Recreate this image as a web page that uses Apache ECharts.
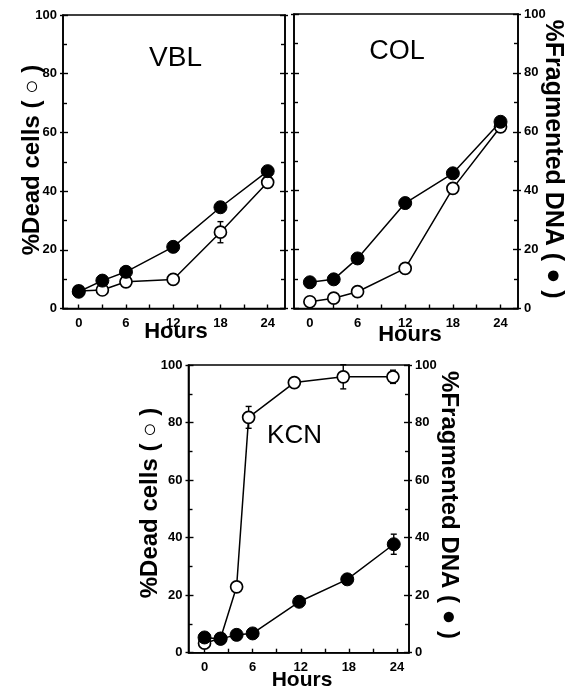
<!DOCTYPE html>
<html>
<head>
<meta charset="utf-8">
<script src="https://cdn.jsdelivr.net/npm/echarts@6/dist/echarts.min.js"></script>
<style>
html,body{margin:0;padding:0;background:#fff;}
#chart{width:567px;height:689px;}
</style>
</head>
<body>
<div id="chart"></div>
<script>
// ---- data ----
const vblHours = [0, 3, 6, 12, 18, 24];
const vblDead = [6, 6.3, 9.1, 9.9, 26, 43];
const vblDeadErr = [0, 0, 0, 0, 3.6, 0];
const vblDNA = [5.7, 9.5, 12.5, 21, 34.5, 46.8];

const colHours = [0, 3, 6, 12, 18, 24];
const colDead = [2.3, 3.5, 5.7, 13.6, 40.8, 61.7];
const colDNA = [8.9, 9.9, 17, 35.8, 45.9, 63.4];

const kcnDeadHours = [0, 2, 4, 5.5, 11.2, 17.3, 23.5];
const kcnDead = [3.3, 5, 22.9, 81.8, 93.9, 95.9, 95.9];
const kcnDeadErr = [0, 0, 0, 3.8, 0, 4.2, 2.3];
const kcnDNAHours = [0, 2, 4, 6, 11.8, 17.8, 23.6];
const kcnDNA = [5.3, 4.8, 6.2, 6.7, 17.7, 25.5, 37.7];
const kcnDNAErr = [0, 0, 0, 0, 0, 0, 3.5];

const hourLabels = [0, 6, 12, 18, 24];
const hourTicks = [0, 3, 6, 9, 12, 15, 18, 21, 24];
const panelNames = ['VBL', 'COL', 'KCN'];
const deadTitle = '%Dead cells ( ○ )';
const dnaTitle = '%Fragmented DNA ( ● )';
const xTitle = 'Hours';

// ---- helpers ----
const FF = '"Liberation Sans", Arial, sans-serif';
const K = '#000';
const zip = (xs, ys) => xs.map((x, i) => [x, ys[i]]);
const zip3 = (xs, ys, es) => xs.map((x, i) => [x, ys[i], es[i]]).filter(d => d[2] > 0);

function mkGrid(l, t, w, h) {
  return { left: l, top: t, width: w, height: h, show: true, borderColor: K, borderWidth: 1.6, backgroundColor: 'transparent' };
}
function mkX(g, max) {
  return {
    type: 'value', gridIndex: g, min: -2, max: max, position: 'bottom',
    axisLine: { show: true, onZero: false, lineStyle: { color: K, width: 1.6 } },
    axisTick: { show: true, inside: true, length: 4, customValues: hourTicks, lineStyle: { color: K, width: 1.4 } },
    axisLabel: { customValues: hourLabels, margin: 8, fontFamily: FF, fontWeight: 'bold', fontSize: 13, color: K },
    splitLine: { show: false }
  };
}
function mkY(g, pos, showLabel) {
  return {
    type: 'value', gridIndex: g, position: pos, min: 0, max: 100, interval: 20,
    axisLine: { show: true, onZero: false, lineStyle: { color: K, width: 1.6 } },
    axisTick: { show: true, inside: true, length: 5, lineStyle: { color: K, width: 1.4 } },
    minorTick: { show: true, splitNumber: 2, length: 4, lineStyle: { color: K, width: 1.4 } },
    axisLabel: { show: showLabel, margin: 6, fontFamily: FF, fontWeight: 'bold', fontSize: 13, color: K },
    splitLine: { show: false }, minorSplitLine: { show: false }
  };
}
function mkYOuter(g, pos) {
  return {
    type: 'value', gridIndex: g, position: pos, min: 0, max: 100, interval: 20,
    axisLine: { show: false, onZero: false },
    axisTick: { show: true, inside: false, length: 3, lineStyle: { color: K, width: 1.4 } },
    axisLabel: { show: false }, splitLine: { show: false }
  };
}
function openSeries(g, xs, ys) {
  return {
    type: 'line', xAxisIndex: g, yAxisIndex: g * 4, data: zip(xs, ys),
    symbol: 'circle', symbolSize: 12, z: 3,
    itemStyle: { color: '#fff', borderColor: K, borderWidth: 1.7 },
    lineStyle: { color: K, width: 1.5 }, animation: false
  };
}
function filledSeries(g, xs, ys) {
  return {
    type: 'line', xAxisIndex: g, yAxisIndex: g * 4, data: zip(xs, ys),
    symbol: 'circle', symbolSize: 13, z: 4,
    itemStyle: { color: K, borderColor: K, borderWidth: 1 },
    lineStyle: { color: K, width: 1.5 }, animation: false
  };
}
function errSeries(g, data) {
  return {
    type: 'custom', xAxisIndex: g, yAxisIndex: g * 4, data: data, z: 2, animation: false,
    encode: { x: 0, y: 1 },
    renderItem: function (params, api) {
      const x = api.value(0), y = api.value(1), e = api.value(2);
      const top = api.coord([x, y + e]);
      const bot = api.coord([x, y - e]);
      const c = 3;
      const st = { stroke: K, lineWidth: 1.4 };
      return {
        type: 'group', children: [
          { type: 'line', shape: { x1: top[0], y1: top[1], x2: bot[0], y2: bot[1] }, style: st },
          { type: 'line', shape: { x1: top[0] - c, y1: top[1], x2: top[0] + c, y2: top[1] }, style: st },
          { type: 'line', shape: { x1: bot[0] - c, y1: bot[1], x2: bot[0] + c, y2: bot[1] }, style: st }
        ]
      };
    }
  };
}
function txt(x, y, text, font, rot) {
  return {
    type: 'text', x: x, y: y, rotation: rot || 0, z: 10,
    style: { text: text, font: font, fill: K, align: 'center', verticalAlign: 'middle' }
  };
}

const chart = echarts.init(document.getElementById('chart'), null, { renderer: 'canvas' });
const option = {
  animation: false,
  backgroundColor: '#fff',
  grid: [
    mkGrid(63, 15, 222, 293.5),
    mkGrid(294, 14, 224, 294.5),
    mkGrid(188.5, 365, 220.5, 287.7)
  ],
  xAxis: [mkX(0, 26.2), mkX(1, 26.2), mkX(2, 25.5)],
  yAxis: [
    mkY(0, 'left', true), mkY(0, 'right', false), mkYOuter(0, 'left'), mkYOuter(0, 'right'),
    mkY(1, 'left', false), mkY(1, 'right', true), mkYOuter(1, 'left'), mkYOuter(1, 'right'),
    mkY(2, 'left', true), mkY(2, 'right', true), mkYOuter(2, 'left'), mkYOuter(2, 'right')
  ],
  series: [
    errSeries(0, zip3(vblHours, vblDead, vblDeadErr)),
    openSeries(0, vblHours, vblDead),
    filledSeries(0, vblHours, vblDNA),
    openSeries(1, colHours, colDead),
    filledSeries(1, colHours, colDNA),
    errSeries(2, zip3(kcnDeadHours, kcnDead, kcnDeadErr)),
    errSeries(2, zip3(kcnDNAHours, kcnDNA, kcnDNAErr)),
    openSeries(2, kcnDeadHours, kcnDead),
    filledSeries(2, kcnDNAHours, kcnDNA)
  ],
  graphic: [
    txt(175.5, 58, panelNames[0], '28px ' + FF),
    txt(397, 52, panelNames[1], '27px ' + FF),
    txt(294.5, 436, panelNames[2], '26px ' + FF),
    txt(32, 160, deadTitle, 'bold 24px ' + FF, Math.PI / 2),
    txt(553, 159, dnaTitle, 'bold 25px ' + FF, -Math.PI / 2),
    txt(150, 503, deadTitle, 'bold 24px ' + FF, Math.PI / 2),
    txt(449, 505, dnaTitle, 'bold 24px ' + FF, -Math.PI / 2),
    txt(176, 332, xTitle, 'bold 22px ' + FF),
    txt(410, 335, xTitle, 'bold 22px ' + FF),
    txt(302, 680, xTitle, 'bold 21px ' + FF)
  ]
};
chart.setOption(option);
</script>
</body>
</html>
